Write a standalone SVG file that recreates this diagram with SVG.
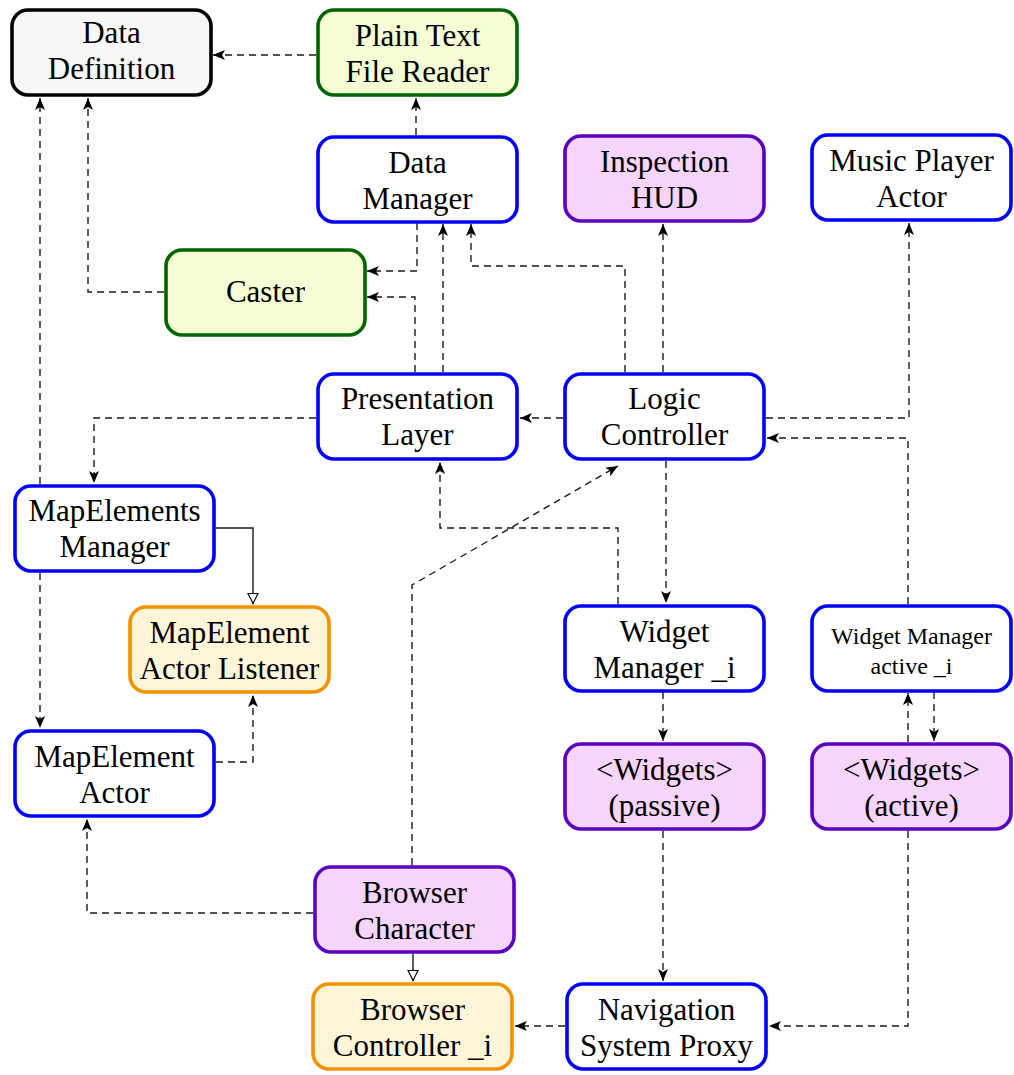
<svg xmlns="http://www.w3.org/2000/svg" width="1014" height="1075" viewBox="0 0 1014 1075" font-family="'Liberation Serif', 'Times New Roman', serif">
<style>
.n rect{stroke-width:3.6}
.blue rect{fill:#fff;stroke:#0000ff}
.green rect{fill:#f5fdd5;stroke:#006400}
.purple rect{fill:#f6d5fc;stroke:#5a00c0}
.orange rect{fill:#fdf5d8;stroke:#f39200}
.black rect{fill:#f7f7f7;stroke:#000}
text{font-family:"Liberation Serif","Times New Roman",serif;font-size:31px;fill:#000;text-anchor:middle}
text.s{font-size:24px}
.c path{fill:none;stroke:#1a1a1a;stroke-width:1.4}
.c .d{stroke-dasharray:7,5}
.c .a{marker-end:url(#arr)}
.c .t{marker-end:url(#tri)}
</style>
<defs>
<marker id="arr" viewBox="0 0 12 10" refX="12" refY="5" markerWidth="12" markerHeight="10" orient="auto" markerUnits="userSpaceOnUse"><path d="M0,0 L12,5 L0,10 L3,5 z" fill="#000"/></marker>
<marker id="tri" viewBox="0 0 12 12" refX="11.5" refY="6" markerWidth="12" markerHeight="12" orient="auto" markerUnits="userSpaceOnUse"><path d="M1,1 L11,6 L1,11 z" fill="#fff" stroke="#000" stroke-width="1.2"/></marker>
</defs>
<rect width="1014" height="1075" fill="#fff"/>
<g id="connectors" class="c">
<path class="d a" d="M316,55 H213"/>
<path class="d a" d="M416,135 V98"/>
<path class="d a" d="M40,484 V98"/>
<path class="d a" d="M40,573 V728"/>
<path class="d a" d="M164,292 H88 V98"/>
<path class="d a" d="M417,223 V271 H367"/>
<path class="d a" d="M415,372 V297 H367"/>
<path class="d a" d="M443,372 V224"/>
<path class="d a" d="M625,372 V266 H471 V224"/>
<path class="d a" d="M563,418 H520"/>
<path class="d a" d="M663,372 V224"/>
<path class="d a" d="M766,418 H909 V223"/>
<path class="d a" d="M908,604 V438 H767"/>
<path class="d a" d="M316,418 H94 V483"/>
<path class="t" d="M216,528 H253 V604"/>
<path class="d a" d="M216,762 H253 V695"/>
<path class="d a" d="M618,604 V528 H440 V462"/>
<path class="d a" d="M666,461 V603"/>
<path class="d a" d="M412,865 V585 L618,466"/>
<path class="d a" d="M663,692 V741"/>
<path class="d a" d="M908,742 V693"/>
<path class="d a" d="M934,692 V741"/>
<path class="d a" d="M663,831 V981"/>
<path class="d a" d="M908,831 V1026 H769"/>
<path class="d a" d="M565,1026 H515"/>
<path class="t" d="M413,954 V981"/>
<path class="d a" d="M313,913 H87 V819"/>
</g>
<g id="dataDefinition" class="n black"><rect x="12" y="10" width="199" height="85" rx="16"/><text x="111.5" y="43">Data</text><text x="111.5" y="79">Definition</text></g>
<g id="plainTextFileReader" class="n green"><rect x="318" y="10" width="199" height="85" rx="16"/><text x="417.5" y="46">Plain Text</text><text x="417.5" y="82">File Reader</text></g>
<g id="dataManager" class="n blue"><rect x="318" y="137" width="199" height="85" rx="16"/><text x="417.5" y="173">Data</text><text x="417.5" y="209">Manager</text></g>
<g id="inspectionHUD" class="n purple"><rect x="565" y="136" width="199" height="85" rx="16"/><text x="664.5" y="172">Inspection</text><text x="664.5" y="208">HUD</text></g>
<g id="musicPlayerActor" class="n blue"><rect x="812" y="135" width="199" height="85" rx="16"/><text x="911.5" y="171">Music Player</text><text x="911.5" y="207">Actor</text></g>
<g id="caster" class="n green"><rect x="166" y="250" width="199" height="85" rx="16"/><text x="265.5" y="302">Caster</text></g>
<g id="presentationLayer" class="n blue"><rect x="318" y="374" width="199" height="85" rx="16"/><text x="417.5" y="409">Presentation</text><text x="417.5" y="445">Layer</text></g>
<g id="logicController" class="n blue"><rect x="565" y="374" width="199" height="85" rx="16"/><text x="664.5" y="409">Logic</text><text x="664.5" y="445">Controller</text></g>
<g id="mapElementsManager" class="n blue"><rect x="15" y="486" width="199" height="85" rx="16"/><text x="114.5" y="521">MapElements</text><text x="114.5" y="557">Manager</text></g>
<g id="mapElementActorListener" class="n orange"><rect x="130" y="607" width="199" height="85" rx="16"/><text x="229.5" y="643">MapElement</text><text x="229.5" y="679">Actor Listener</text></g>
<g id="widgetManager" class="n blue"><rect x="565" y="606" width="199" height="85" rx="16"/><text x="664.5" y="642">Widget</text><text x="664.5" y="678">Manager _i</text></g>
<g id="widgetManagerActive" class="n blue"><rect x="812" y="606" width="199" height="85" rx="16"/><text class="s" x="911.5" y="644">Widget Manager</text><text class="s" x="911.5" y="674">active _i</text></g>
<g id="mapElementActor" class="n blue"><rect x="15" y="731" width="199" height="85" rx="16"/><text x="114.5" y="767">MapElement</text><text x="114.5" y="803">Actor</text></g>
<g id="widgetsPassive" class="n purple"><rect x="565" y="744" width="199" height="85" rx="16"/><text x="664.5" y="780">&lt;Widgets&gt;</text><text x="664.5" y="816">(passive)</text></g>
<g id="widgetsActive" class="n purple"><rect x="812" y="744" width="199" height="85" rx="16"/><text x="911.5" y="780">&lt;Widgets&gt;</text><text x="911.5" y="816">(active)</text></g>
<g id="browserCharacter" class="n purple"><rect x="315" y="867" width="199" height="85" rx="16"/><text x="414.5" y="903">Browser</text><text x="414.5" y="939">Character</text></g>
<g id="browserController" class="n orange"><rect x="313" y="984" width="199" height="85" rx="16"/><text x="412.5" y="1020">Browser</text><text x="412.5" y="1056">Controller _i</text></g>
<g id="navigationSystemProxy" class="n blue"><rect x="567" y="984" width="199" height="85" rx="16"/><text x="666.5" y="1020">Navigation</text><text x="666.5" y="1056">System Proxy</text></g>
</svg>
